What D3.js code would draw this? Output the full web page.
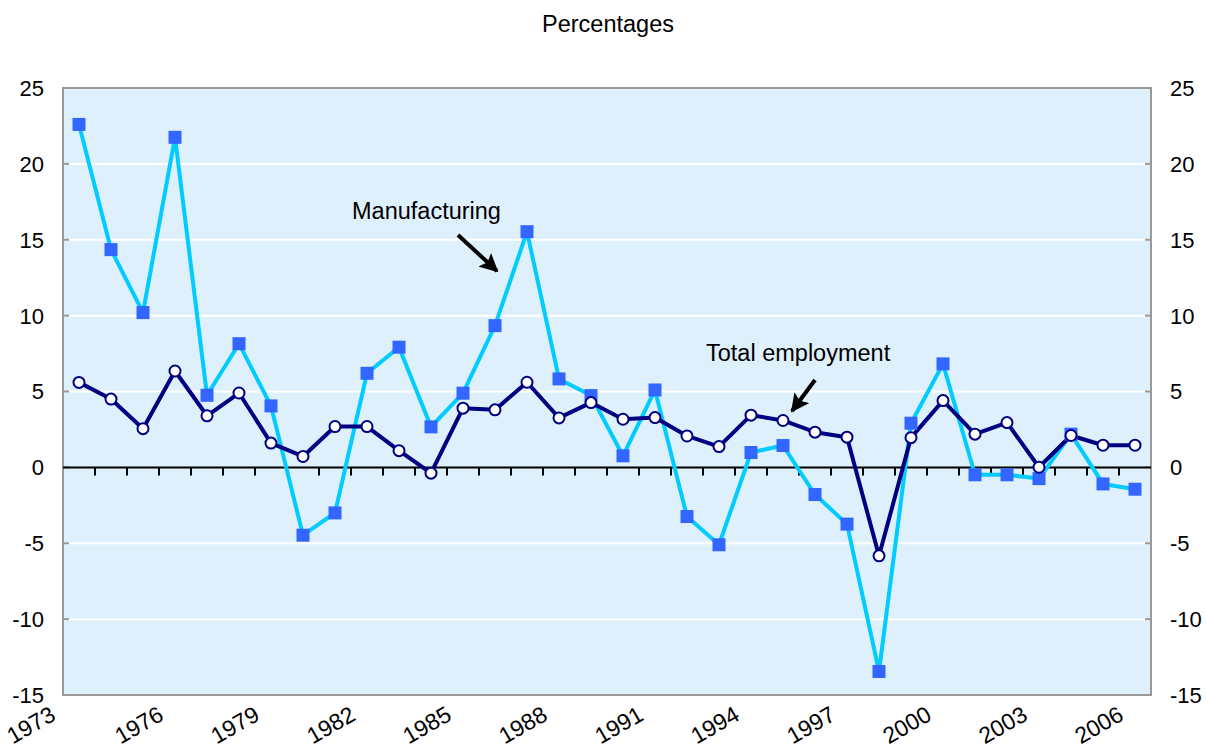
<!DOCTYPE html>
<html><head><meta charset="utf-8">
<script src="https://cdn.jsdelivr.net/npm/d3@7"></script>
<style>
body{margin:0;background:#fff;}
text{font-family:"Liberation Sans",Arial,sans-serif;fill:#000;}
</style></head>
<body><svg id="c" width="1206" height="751"></svg>
<script>
const years = d3.range(1973, 2007);
const manufacturing = [22.6,14.35,10.2,21.75,4.75,8.15,4.05,-4.47,-3.0,6.2,7.92,2.67,4.89,9.34,15.53,5.83,4.73,0.76,5.1,-3.24,-5.1,0.98,1.44,-1.79,-3.74,-13.45,2.91,6.82,-0.49,-0.49,-0.74,2.19,-1.09,-1.44];
const totalEmployment = [5.6,4.5,2.55,6.35,3.4,4.9,1.6,0.72,2.69,2.69,1.1,-0.38,3.9,3.79,5.61,3.26,4.27,3.17,3.28,2.07,1.37,3.44,3.09,2.32,1.99,-5.83,1.96,4.4,2.19,2.95,0.01,2.1,1.46,1.46];
const yTicks = [-15,-10,-5,0,5,10,15,20,25];
const labelYears = [1973,1976,1979,1982,1985,1988,1991,1994,1997,2000,2003,2006];

const svg = d3.select("#c");
const L=63, R=1151, T=88, B=695;
const x = d3.scaleBand().domain(years).range([L,R]).paddingInner(0).paddingOuter(0);
const y = d3.scaleLinear().domain([-15,25]).range([B,T]);
const cx = d => x(d)+x.bandwidth()/2;

svg.append("rect").attr("x",L).attr("y",T).attr("width",R-L).attr("height",B-T).attr("fill","#dff0fd");
svg.append("g").selectAll("line").data(yTicks.filter(v=>v!==0&&v!==-15&&v!==25)).join("line")
  .attr("x1",L).attr("x2",R).attr("y1",d=>y(d)).attr("y2",d=>y(d)).attr("stroke","#fff").attr("stroke-width",2);
svg.append("rect").attr("x",L).attr("y",T).attr("width",R-L).attr("height",B-T).attr("fill","none").attr("stroke","#999").attr("stroke-width",2);
const lt = svg.append("g");
lt.selectAll("line.l").data(yTicks).join("line").attr("class","l")
  .attr("x1",L).attr("x2",L+6).attr("y1",d=>y(d)).attr("y2",d=>y(d)).attr("stroke","#999").attr("stroke-width",2);
lt.selectAll("line.r").data(yTicks).join("line").attr("class","r")
  .attr("x1",R-6).attr("x2",R).attr("y1",d=>y(d)).attr("y2",d=>y(d)).attr("stroke","#999").attr("stroke-width",2);
svg.append("g").selectAll("text").data(yTicks).join("text")
  .attr("x",44).attr("y",d=>y(d)).attr("dy","0.36em").attr("text-anchor","end").attr("font-size",22).text(d=>d);
svg.append("g").selectAll("text").data(yTicks).join("text")
  .attr("x",1170).attr("y",d=>y(d)).attr("dy","0.36em").attr("text-anchor","start").attr("font-size",22).text(d=>d);

svg.append("line").attr("x1",L).attr("x2",R).attr("y1",y(0)).attr("y2",y(0)).attr("stroke","#000").attr("stroke-width",2);
svg.append("g").selectAll("line").data(years.slice(1)).join("line")
  .attr("x1",d=>x(d)).attr("x2",d=>x(d)).attr("y1",y(0)).attr("y2",y(0)+8).attr("stroke","#000").attr("stroke-width",2);

// x labels (Excel-style, rotated -30°, first label pushed toward the left edge)
svg.append("g").selectAll("text").data(labelYears).join("text")
  .attr("transform",(d,i)=>`translate(${i===0 ? 57 : cx(d)-10},719) rotate(-30)`).attr("text-anchor","end").attr("font-size",23).text(d=>d);

const line = d3.line().x((d,i)=>cx(years[i])).y(d=>y(d));
svg.append("path").datum(manufacturing).attr("d",line).attr("fill","none").attr("stroke","#00ccff").attr("stroke-width",4).attr("stroke-linejoin","round");
svg.append("path").datum(totalEmployment).attr("d",line).attr("fill","none").attr("stroke","#000080").attr("stroke-width",4).attr("stroke-linejoin","round");
svg.append("g").selectAll("rect").data(manufacturing).join("rect")
  .attr("x",(d,i)=>cx(years[i])-6.5).attr("y",d=>y(d)-6.5).attr("width",13).attr("height",13).attr("fill","#3366ff");
svg.append("g").selectAll("circle").data(totalEmployment).join("circle")
  .attr("cx",(d,i)=>cx(years[i])).attr("cy",d=>y(d)).attr("r",5.5).attr("fill","#fff").attr("stroke","#000080").attr("stroke-width",2);

svg.append("text").attr("x",608).attr("y",32).attr("text-anchor","middle").attr("font-size",23.5).text("Percentages");

svg.append("text").attr("x",352).attr("y",219).attr("font-size",23.5).text("Manufacturing");
svg.append("text").attr("x",706).attr("y",361).attr("font-size",23.5).text("Total employment");
const defs = svg.append("defs");
defs.append("marker").attr("id","ah").attr("viewBox","0 0 10 10").attr("refX",9).attr("refY",5)
  .attr("markerWidth",4.6).attr("markerHeight",4.6).attr("orient","auto").attr("markerUnits","strokeWidth")
  .append("path").attr("d","M0,0 L10,5 L0,10 L2,5 Z").attr("fill","#000");
svg.append("line").attr("x1",458).attr("y1",235).attr("x2",497).attr("y2",271).attr("stroke","#000").attr("stroke-width",4).attr("marker-end","url(#ah)");
svg.append("line").attr("x1",815).attr("y1",380).attr("x2",792).attr("y2",411).attr("stroke","#000").attr("stroke-width",4).attr("marker-end","url(#ah)");
</script></body></html>
